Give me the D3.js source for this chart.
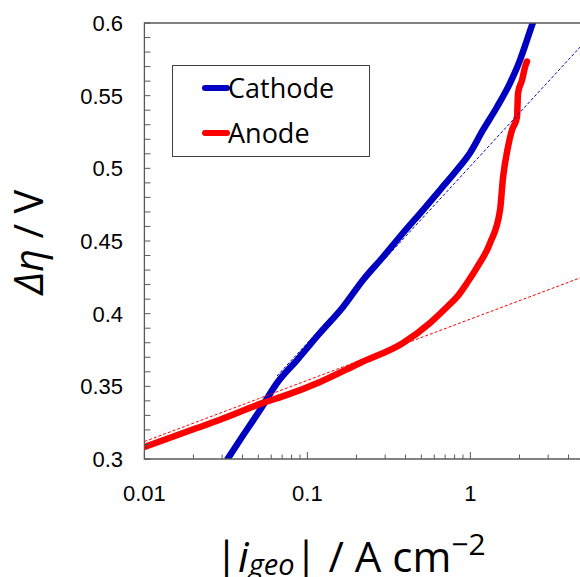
<!DOCTYPE html>
<html><head><meta charset="utf-8">
<script src="https://cdn.jsdelivr.net/npm/d3@7"></script>
<style>body{margin:0;background:#fff}svg{display:block}</style>
</head><body>
<script>
// Data: |i_geo| (A cm^-2) vs Δη (V)
const cathodeI   = [0.0321, 0.0386, 0.0512, 0.0651, 0.0864, 0.1195, 0.1654, 0.2194, 0.2909, 0.3859, 0.5118, 0.651, 0.8276, 0.9942, 1.195, 1.456, 1.750, 2.015, 2.224, 2.388, 2.45];
const cathodeEta = [0.2993, 0.3131, 0.3337, 0.3523, 0.3681, 0.3867, 0.4046, 0.4232, 0.4390, 0.4555, 0.4713, 0.4851, 0.4990, 0.5106, 0.5264, 0.5422, 0.5587, 0.5745, 0.5883, 0.5986, 0.602];
const anodeI     = [0.01, 0.021, 0.0291, 0.0534, 0.0750, 0.1195, 0.2102, 0.386, 0.565, 0.718, 0.8276, 0.953, 1.10, 1.32, 1.52, 1.585, 1.701, 1.80, 1.932, 1.96, 2.075, 2.163, 2.224];
const anodeEta   = [0.3083, 0.3213, 0.3270, 0.3386, 0.3441, 0.3530, 0.3661, 0.3798, 0.3936, 0.4046, 0.4115, 0.4211, 0.4320, 0.4486, 0.4713, 0.4934, 0.5147, 0.5264, 0.5353, 0.5518, 0.5608, 0.5697, 0.5735];
// Tafel fit lines (dashed)
const cathodeFitI   = [0.065, 10];
const cathodeFitEta = [0.3571, 0.6232];
const anodeFitI     = [0.01, 10];
const anodeFitEta   = [0.312, 0.4384];
const seriesNames = ["Cathode", "Anode"];
const xTickLabels = ["0.01", "0.1", "1"];
const yTickLabels = ["0.3", "0.35", "0.4", "0.45", "0.5", "0.55", "0.6"];

const W = 580, H = 577;
const L = 144.4, T = 23, B = 459, dec = 163;
const svg = d3.select("body").append("svg").attr("width", W).attr("height", H);

const x = d3.scaleLog().domain([0.01, 10]).range([L, L + 3 * dec]);
const y = d3.scaleLinear().domain([0.3, 0.6]).range([B, T]);

svg.append("defs").append("clipPath").attr("id", "clip")
  .append("rect").attr("x", L).attr("y", T).attr("width", 3 * dec).attr("height", B - T);

const blue = "#0000c0", red = "#ff0000";
const lineSmooth = d3.line().x(d => x(d[0])).y(d => y(d[1])).curve(d3.curveMonotoneX);
const lineStraight = d3.line().x(d => x(d[0])).y(d => y(d[1]));
const g = svg.append("g").attr("clip-path", "url(#clip)");

g.append("path").datum(d3.zip(cathodeI, cathodeEta)).attr("d", lineSmooth)
  .attr("fill", "none").attr("stroke", blue).attr("stroke-width", 6.5).attr("stroke-linejoin", "round");
g.append("path").datum(d3.zip(anodeI, anodeEta)).attr("d", lineSmooth)
  .attr("fill", "none").attr("stroke", red).attr("stroke-width", 6.5).attr("stroke-linejoin", "round").attr("stroke-linecap", "round");
g.append("path").datum(d3.zip(cathodeFitI, cathodeFitEta)).attr("d", lineStraight)
  .attr("fill", "none").attr("stroke", blue).attr("stroke-width", 1).attr("stroke-dasharray", "3,2");
g.append("path").datum(d3.zip(anodeFitI, anodeFitEta)).attr("d", lineStraight)
  .attr("fill", "none").attr("stroke", red).attr("stroke-width", 1).attr("stroke-dasharray", "3,2");

// Frame
const frameCol = "#595959";
svg.append("path").attr("d", `M${L + 3 * dec},${T}H${L}V${B}H${L + 3 * dec}`)
  .attr("fill", "none").attr("stroke", frameCol).attr("stroke-width", 1.3);

// Y axis ticks (inside) and labels
const yTicks = d3.range(0, 31).map(k => 0.3 + k * 0.01);
svg.append("g").selectAll("line").data(yTicks).join("line")
  .attr("x1", L).attr("x2", L + 6).attr("y1", d => y(d)).attr("y2", d => y(d))
  .attr("stroke", frameCol).attr("stroke-width", 1);
svg.append("g").selectAll("text").data(yTickLabels).join("text")
  .attr("x", 123).attr("y", d => y(+d)).attr("dy", "0.36em")
  .attr("text-anchor", "end").attr("font-family", "Liberation Sans, Arial, sans-serif")
  .attr("font-size", 22).attr("fill", "#000").text(d => d);

// X axis ticks (inside)
const xTicks = [];
for (let e = -2; e <= 0; e++) for (let m = 1; m <= 9; m++) xTicks.push({v: m * Math.pow(10, e), major: m === 1});
xTicks.push({v: 10, major: true});
svg.append("g").selectAll("line").data(xTicks).join("line")
  .attr("x1", d => x(d.v)).attr("x2", d => x(d.v))
  .attr("y1", B).attr("y2", d => B - (d.major ? 7 : 4.5))
  .attr("stroke", frameCol).attr("stroke-width", 1);
svg.append("g").selectAll("text").data(xTickLabels).join("text")
  .attr("x", d => x(+d)).attr("y", 501)
  .attr("text-anchor", "middle").attr("font-family", "Liberation Sans, Arial, sans-serif")
  .attr("font-size", 22).attr("fill", "#000").text(d => d);

// Axis titles
const yt = svg.append("text").attr("transform", "translate(43,242) rotate(-90)")
  .attr("text-anchor", "middle").attr("font-family", "Open Sans, sans-serif")
  .attr("font-size", 40).attr("fill", "#000");
yt.append("tspan").attr("font-style", "italic").text("Δη");
yt.append("tspan").text(" / V");

const xt = svg.append("text").attr("x", 215).attr("y", 572)
  .attr("text-anchor", "start").attr("font-family", "Open Sans, sans-serif")
  .attr("font-size", 42).attr("fill", "#000");
xt.append("tspan").text("|");
xt.append("tspan").attr("font-style", "italic").text("i");
xt.append("tspan").attr("font-style", "italic").attr("font-size", 29).attr("dy", 3).text("geo");
xt.append("tspan").attr("dy", -3).text("| / A cm");
xt.append("tspan").attr("font-size", 30).attr("dy", -17).text("−2");

// Legend
svg.append("rect").attr("x", 172.5).attr("y", 65.5).attr("width", 197).attr("height", 91)
  .attr("fill", "#fff").attr("stroke", "#404040").attr("stroke-width", 1);
const leg = svg.append("g");
[[blue, 88, 98], [red, 133, 143]].forEach((c, i) => {
  leg.append("line").attr("x1", 205).attr("x2", 227).attr("y1", c[1]).attr("y2", c[1])
    .attr("stroke", c[0]).attr("stroke-width", 6).attr("stroke-linecap", "round");
  leg.append("text").attr("x", 228).attr("y", c[2]).attr("font-family", "Open Sans, sans-serif")
    .attr("font-size", 27).attr("fill", "#000").text(seriesNames[i]);
});
</script>
</body></html>
